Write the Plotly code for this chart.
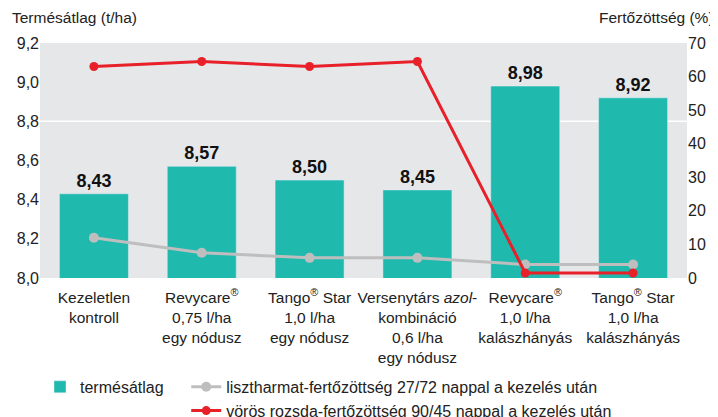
import plotly.graph_objects as go

categories = [
    "Kezeletlen<br>kontroll",
    "Revycare<sup>®</sup><br>0,75 l/ha<br>egy nódusz",
    "Tango<sup>®</sup> Star<br>1,0 l/ha<br>egy nódusz",
    "Versenytárs <i>azol</i>-<br>kombináció<br>0,6 l/ha<br>egy nódusz",
    "Revycare<sup>®</sup><br>1,0 l/ha<br>kalászhányás",
    "Tango<sup>®</sup> Star<br>1,0 l/ha<br>kalászhányás",
]
yield_t = [8.43, 8.57, 8.50, 8.45, 8.98, 8.92]
mildew = [12, 7.5, 6, 6, 4, 4]
rust = [63, 64.5, 63, 64.5, 1.5, 1.5]
left_ticks = [8.0, 8.2, 8.4, 8.6, 8.8, 9.0, 9.2]
right_ticks = [0, 10, 20, 30, 40, 50, 60, 70]

TEAL = "#20B9AE"
RED = "#E8202A"
GRAY = "#BEBEBE"
FONT = "Liberation Sans"

x = list(range(len(categories)))
labels = [f"{v:.2f}".replace(".", ",") for v in yield_t]

fig = go.Figure()
fig.add_trace(go.Bar(
    x=x, y=yield_t, name="termésátlag", marker_color=TEAL,
    text=labels, textposition="outside", cliponaxis=False,
    textfont=dict(family=FONT, size=18, color="#111111", weight="bold"),
    legend="legend",
))
fig.add_trace(go.Scatter(
    x=x, y=mildew, yaxis="y2", mode="lines+markers",
    name="lisztharmat-fertőzöttség 27/72 nappal a kezelés után",
    line=dict(color=GRAY, width=3), marker=dict(color=GRAY, size=10),
    legend="legend2",
))
fig.add_trace(go.Scatter(
    x=x, y=rust, yaxis="y2", mode="lines+markers",
    name="vörös rozsda-fertőzöttség 90/45 nappal a kezelés után",
    line=dict(color=RED, width=3), marker=dict(color=RED, size=9),
    legend="legend2",
))

fig.add_shape(type="line", xref="paper", x0=0, x1=1, yref="y", y0=8.8, y1=8.8,
              line=dict(color="white", width=1.5), layer="below")

# the page body has an 8px margin, so the figure is sized to fill the rest
fig.update_layout(
    width=710, height=409,
    margin=dict(l=32, r=31, t=35, b=139, autoexpand=False),
    paper_bgcolor="white", plot_bgcolor="#E6E7E9",
    font=dict(family=FONT, size=15.5, color="#222222"),
    bargap=0.36,
    xaxis=dict(tickmode="array", tickvals=x, ticktext=categories, tickangle=0,
               range=[-0.5, 5.5], showgrid=False, ticks="", zeroline=False,
               automargin=False, ticklabelstandoff=8, tickfont=dict(size=15.5)),
    yaxis=dict(range=[8.0, 9.2], tickvals=left_ticks,
               ticktext=[f"{v:.1f}".replace(".", ",") for v in left_ticks],
               showgrid=False, zeroline=False, ticks="", automargin=False,
               tickfont=dict(size=16)),
    yaxis2=dict(range=[0, 70], tickvals=right_ticks, overlaying="y", side="right",
                showgrid=False, zeroline=False, ticks="", automargin=False,
                tickfont=dict(size=16)),
    legend=dict(x=0.0, y=-0.391, xanchor="left", yanchor="top",
                font=dict(size=16), bgcolor="rgba(0,0,0,0)"),
    legend2=dict(x=0.226, y=-0.391, xanchor="left", yanchor="top",
                 font=dict(size=16), bgcolor="rgba(0,0,0,0)", itemwidth=30,
                 tracegroupgap=0),
    showlegend=True,
)
fig.add_annotation(text="Termésátlag (t/ha)", xref="paper", yref="paper",
                   x=-0.0464, y=1.0, yshift=26, xanchor="left", yanchor="middle",
                   showarrow=False, font=dict(size=15.5))
fig.add_annotation(text="Fertőzöttség (%)", xref="paper", yref="paper",
                   x=1.0448, y=1.0, yshift=26, xanchor="right", yanchor="middle",
                   showarrow=False, font=dict(size=15.5))

fig.write_html("out.html")
